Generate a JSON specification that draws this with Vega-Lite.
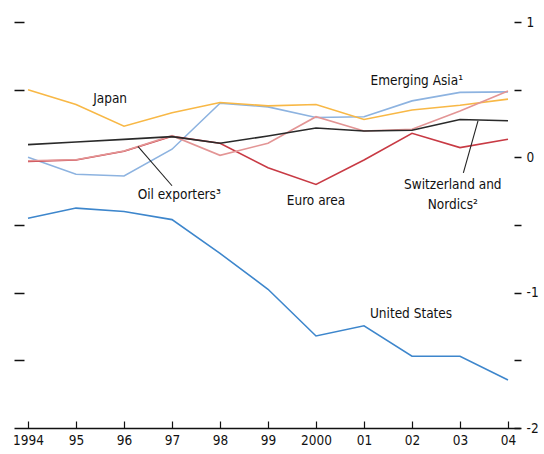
{
  "$schema": "https://vega.github.io/schema/vega-lite/v6.json",
  "width": 506,
  "height": 406,
  "autosize": "none",
  "padding": {"left": 14, "top": 22, "right": 24, "bottom": 26},
  "background": "white",
  "config": {
    "view": {"stroke": null},
    "font": "'DejaVu Sans Condensed', 'Liberation Sans', sans-serif",
    "axisX": {
      "domainColor": "#111",
      "domainWidth": 1.5,
      "tickColor": "#111",
      "tickWidth": 1.2,
      "tickSize": -7,
      "labelPadding": 12,
      "labelFontSize": 13.5,
      "labelColor": "#111",
      "labelFont": "'DejaVu Sans Condensed', 'Liberation Sans', sans-serif",
      "grid": false,
      "title": null
    }
  },
  "datasets": {
    "series": [
      {"series": "United States", "year": 1994, "value": -0.45},
      {"series": "United States", "year": 1995, "value": -0.375},
      {"series": "United States", "year": 1996, "value": -0.4},
      {"series": "United States", "year": 1997, "value": -0.46},
      {"series": "United States", "year": 1998, "value": -0.71},
      {"series": "United States", "year": 1999, "value": -0.975},
      {"series": "United States", "year": 2000, "value": -1.32},
      {"series": "United States", "year": 2001, "value": -1.245},
      {"series": "United States", "year": 2002, "value": -1.47},
      {"series": "United States", "year": 2003, "value": -1.47},
      {"series": "United States", "year": 2004, "value": -1.645},
      {"series": "Emerging Asia", "year": 1994, "value": 0.0},
      {"series": "Emerging Asia", "year": 1995, "value": -0.125},
      {"series": "Emerging Asia", "year": 1996, "value": -0.138},
      {"series": "Emerging Asia", "year": 1997, "value": 0.06},
      {"series": "Emerging Asia", "year": 1998, "value": 0.4},
      {"series": "Emerging Asia", "year": 1999, "value": 0.373},
      {"series": "Emerging Asia", "year": 2000, "value": 0.294},
      {"series": "Emerging Asia", "year": 2001, "value": 0.3},
      {"series": "Emerging Asia", "year": 2002, "value": 0.417},
      {"series": "Emerging Asia", "year": 2003, "value": 0.48},
      {"series": "Emerging Asia", "year": 2004, "value": 0.484},
      {"series": "Japan", "year": 1994, "value": 0.5},
      {"series": "Japan", "year": 1995, "value": 0.39},
      {"series": "Japan", "year": 1996, "value": 0.23},
      {"series": "Japan", "year": 1997, "value": 0.33},
      {"series": "Japan", "year": 1998, "value": 0.405},
      {"series": "Japan", "year": 1999, "value": 0.38},
      {"series": "Japan", "year": 2000, "value": 0.39},
      {"series": "Japan", "year": 2001, "value": 0.28},
      {"series": "Japan", "year": 2002, "value": 0.35},
      {"series": "Japan", "year": 2003, "value": 0.385},
      {"series": "Japan", "year": 2004, "value": 0.43},
      {"series": "Euro area", "year": 1994, "value": -0.03},
      {"series": "Euro area", "year": 1995, "value": -0.02},
      {"series": "Euro area", "year": 1996, "value": 0.045},
      {"series": "Euro area", "year": 1997, "value": 0.155},
      {"series": "Euro area", "year": 1998, "value": 0.104},
      {"series": "Euro area", "year": 1999, "value": -0.077},
      {"series": "Euro area", "year": 2000, "value": -0.2},
      {"series": "Euro area", "year": 2001, "value": -0.02},
      {"series": "Euro area", "year": 2002, "value": 0.178},
      {"series": "Euro area", "year": 2003, "value": 0.072},
      {"series": "Euro area", "year": 2004, "value": 0.133},
      {"series": "Oil exporters", "year": 1994, "value": -0.025},
      {"series": "Oil exporters", "year": 1995, "value": -0.018},
      {"series": "Oil exporters", "year": 1996, "value": 0.047},
      {"series": "Oil exporters", "year": 1997, "value": 0.16},
      {"series": "Oil exporters", "year": 1998, "value": 0.015},
      {"series": "Oil exporters", "year": 1999, "value": 0.104},
      {"series": "Oil exporters", "year": 2000, "value": 0.3},
      {"series": "Oil exporters", "year": 2001, "value": 0.195},
      {"series": "Oil exporters", "year": 2002, "value": 0.207},
      {"series": "Oil exporters", "year": 2003, "value": 0.343},
      {"series": "Oil exporters", "year": 2004, "value": 0.49},
      {"series": "Switzerland and Nordics", "year": 1994, "value": 0.094},
      {"series": "Switzerland and Nordics", "year": 1995, "value": 0.113},
      {"series": "Switzerland and Nordics", "year": 1996, "value": 0.133},
      {"series": "Switzerland and Nordics", "year": 1997, "value": 0.153},
      {"series": "Switzerland and Nordics", "year": 1998, "value": 0.104},
      {"series": "Switzerland and Nordics", "year": 1999, "value": 0.158},
      {"series": "Switzerland and Nordics", "year": 2000, "value": 0.217},
      {"series": "Switzerland and Nordics", "year": 2001, "value": 0.195},
      {"series": "Switzerland and Nordics", "year": 2002, "value": 0.2},
      {"series": "Switzerland and Nordics", "year": 2003, "value": 0.28},
      {"series": "Switzerland and Nordics", "year": 2004, "value": 0.27}
    ],
    "labels": [
      {"text": "Japan", "year": 1995.71, "value": 0.43},
      {"text": "Emerging Asia¹", "year": 2002.1, "value": 0.565},
      {"text": "Oil exporters³", "year": 1997.15, "value": -0.28},
      {"text": "Euro area", "year": 2000.0, "value": -0.32},
      {"text": "Switzerland and", "year": 2002.85, "value": -0.207},
      {"text": "Nordics²", "year": 2002.85, "value": -0.35},
      {"text": "United States", "year": 2001.98, "value": -1.156}
    ],
    "leaders": [
      {"x1": 1996.29, "y1": 0.081, "x2": 1997.0, "y2": -0.21},
      {"x1": 2003.375, "y1": 0.269, "x2": 2003.07, "y2": -0.115}
    ]
  },
  "layer": [
    {
      "mark": {"type": "rule", "color": "#111", "strokeWidth": 1.5},
      "encoding": {
        "y": {
          "datum": 0,
          "type": "quantitative",
          "scale": {"domain": [-2, 1], "nice": false, "zero": false},
          "axis": {
            "orient": "left",
            "offset": -10,
            "tickSize": 10,
            "labels": false,
            "domain": false,
            "grid": false,
            "title": null,
            "values": [1, 0.5, -0.5, -1, -1.5],
            "tickColor": "#111",
            "tickWidth": 1.5
          }
        }
      }
    },
    {
      "data": {"name": "series"},
      "mark": {"type": "line", "strokeWidth": 1.6},
      "encoding": {
        "x": {
          "field": "year",
          "type": "quantitative",
          "scale": {"domain": [1993.708, 2004.25], "nice": false, "zero": false},
          "axis": {
            "values": [1994, 1995, 1996, 1997, 1998, 1999, 2000, 2001, 2002, 2003, 2004],
            "labelExpr": "datum.value == 1994 || datum.value == 2000 ? toString(datum.value) : slice(toString(datum.value), 2)",
            "title": null
          }
        },
        "y": {
          "field": "value",
          "type": "quantitative",
          "scale": {"domain": [-2, 1], "nice": false, "zero": false},
          "axis": {
            "orient": "right",
            "offset": -6,
            "tickSize": 7,
            "domain": false,
            "grid": false,
            "title": null,
            "values": [1, 0.5, 0, -0.5, -1, -1.5, -2],
            "labelExpr": "datum.value % 1 == 0 ? toString(datum.value) : ''",
            "labelPadding": 5,
            "labelFontSize": 13.5,
            "labelFont": "'DejaVu Sans Condensed', 'Liberation Sans', sans-serif",
            "labelColor": "#111",
            "tickColor": "#111",
            "tickWidth": 1.5
          }
        },
        "color": {
          "field": "series",
          "type": "nominal",
          "legend": null,
          "scale": {
            "domain": ["United States", "Emerging Asia", "Japan", "Euro area", "Oil exporters", "Switzerland and Nordics"],
            "range": ["#3D86CC", "#8DB3E0", "#F8B846", "#C83A44", "#E39595", "#2A2A2A"]
          }
        },
        "detail": {"field": "series"}
      }
    },
    {
      "data": {"name": "leaders"},
      "mark": {"type": "rule", "color": "#222", "strokeWidth": 1.1},
      "encoding": {
        "x": {"field": "x1", "type": "quantitative", "title": null},
        "y": {"field": "y1", "type": "quantitative", "axis": null},
        "x2": {"field": "x2"},
        "y2": {"field": "y2"}
      }
    },
    {
      "data": {"name": "labels"},
      "mark": {"type": "text", "font": "'DejaVu Sans Condensed', 'Liberation Sans', sans-serif", "fontSize": 13.5, "color": "#111", "align": "center", "baseline": "middle"},
      "encoding": {
        "x": {"field": "year", "type": "quantitative", "title": null},
        "y": {"field": "value", "type": "quantitative", "axis": null},
        "text": {"field": "text"}
      }
    }
  ],
  "resolve": {"axis": {"y": "independent"}}
}
